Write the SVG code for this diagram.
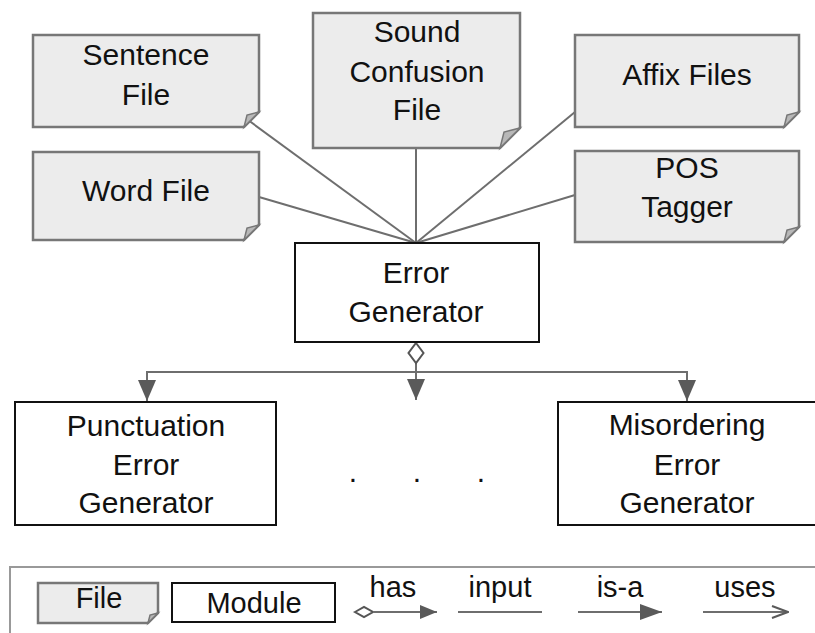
<svg xmlns="http://www.w3.org/2000/svg" width="815" height="633" viewBox="0 0 815 633">
<style>
text{font-family:"Liberation Sans",Arial,sans-serif;font-size:30px;fill:#111;text-anchor:middle}
.lg{font-size:29px}
.file{fill:#ececec;stroke:#777;stroke-width:2.5}
.fold{fill:#b8b8b8;stroke:#777;stroke-width:1.5}
.mod{fill:#fff;stroke:#111;stroke-width:2}
.ln{stroke:#6e6e6e;stroke-width:2;fill:none}
</style>
<defs>
<marker id="tri" markerWidth="21" markerHeight="18" refX="21" refY="9" orient="auto" markerUnits="userSpaceOnUse" viewBox="0 0 21 18">
<path d="M0,0 L21,9 L0,18 Z" fill="#5a5a5a"/>
</marker>
<marker id="tris" markerWidth="17" markerHeight="14" refX="17" refY="7" orient="auto" markerUnits="userSpaceOnUse" viewBox="0 0 17 14">
<path d="M0,0 L17,7 L0,14 Z" fill="#5a5a5a"/>
</marker>
<marker id="trib" markerWidth="22" markerHeight="16" refX="22" refY="8" orient="auto" markerUnits="userSpaceOnUse" viewBox="0 0 22 16">
<path d="M0,0 L22,8 L0,16 Z" fill="#5a5a5a"/>
</marker>
<marker id="open" markerWidth="18" markerHeight="14" refX="17" refY="7" orient="auto" markerUnits="userSpaceOnUse" viewBox="0 0 18 14">
<path d="M1,1 L17,7 L1,13" fill="none" stroke="#5a5a5a" stroke-width="2"/>
</marker>
</defs>

<g id="connectors">
<line class="ln" x1="248" y1="120" x2="416" y2="243"/>
<line class="ln" x1="259" y1="197" x2="416" y2="243"/>
<line class="ln" x1="416" y1="148" x2="416" y2="243"/>
<line class="ln" x1="575" y1="112" x2="416" y2="243"/>
<line class="ln" x1="575" y1="195" x2="416" y2="243"/>
<polyline class="ln" points="147,372 687,372"/>
<line class="ln" x1="147" y1="371" x2="147" y2="401" marker-end="url(#tri)"/>
<line class="ln" x1="687" y1="371" x2="687" y2="401" marker-end="url(#tri)"/>
<line class="ln" x1="416" y1="362" x2="416" y2="400" marker-end="url(#tri)"/>
<path d="M416,343 L423.5,353 L416,363 L408.5,353 Z" fill="#fff" stroke="#555" stroke-width="2"/>
</g>

<g id="sentence-file">
<path class="file" d="M33,35 H259 V112 L244,127 H33 Z"/>
<path class="fold" d="M259,112 L244,127 L247,115 Z"/>
<text x="146" y="65">Sentence</text>
<text x="146" y="105">File</text>
</g>

<g id="word-file">
<path class="file" d="M33,152 H259 V225 L244,240 H33 Z"/>
<path class="fold" d="M259,225 L244,240 L247,228 Z"/>
<text x="146" y="201">Word File</text>
</g>

<g id="sound-confusion-file">
<path class="file" d="M313,13 H520 V128 L500,148 H313 Z"/>
<path class="fold" d="M520,128 L500,148 L504,132 Z"/>
<text x="417" y="42">Sound</text>
<text x="417" y="82">Confusion</text>
<text x="417" y="120">File</text>
</g>

<g id="affix-files">
<path class="file" d="M575,35 H799 V112 L784,127 H575 Z"/>
<path class="fold" d="M799,112 L784,127 L787,115 Z"/>
<text x="687" y="85">Affix Files</text>
</g>

<g id="pos-tagger">
<path class="file" d="M575,151 H799 V227 L784,242 H575 Z"/>
<path class="fold" d="M799,227 L784,242 L787,230 Z"/>
<text x="687" y="178">POS</text>
<text x="687" y="217">Tagger</text>
</g>

<g id="error-generator">
<rect class="mod" x="295" y="243" width="244" height="99"/>
<text x="416" y="283">Error</text>
<text x="416" y="322">Generator</text>
</g>

<g id="punctuation-error-generator">
<rect class="mod" x="15" y="402" width="261" height="123"/>
<text x="146" y="436">Punctuation</text>
<text x="146" y="475">Error</text>
<text x="146" y="513">Generator</text>
</g>

<g id="dots">
<text x="353" y="482">.</text>
<text x="417" y="482">.</text>
<text x="481" y="482">.</text>
</g>

<g id="misordering-error-generator">
<rect class="mod" x="558" y="402" width="261" height="123"/>
<text x="687" y="435">Misordering</text>
<text x="687" y="475">Error</text>
<text x="687" y="513">Generator</text>
</g>

<g id="legend">
<rect x="10" y="567" width="820" height="80" fill="#fff" stroke="#999" stroke-width="2"/>
<path class="file" stroke-width="2" d="M38,583 H158 V613 L148,623 H38 Z"/>
<path class="fold" d="M158,613 L148,623 L150,615 Z"/>
<text class="lg" x="99" y="608">File</text>
<rect class="mod" x="172" y="583" width="163" height="39"/>
<text class="lg" x="254" y="613">Module</text>
<path d="M355,612 L364,607 L373,612 L364,617 Z" fill="#fff" stroke="#555" stroke-width="2"/>
<line class="ln" x1="373" y1="612" x2="437" y2="612" marker-end="url(#tris)"/>
<text class="lg" x="393" y="597">has</text>
<line class="ln" x1="458" y1="612" x2="542" y2="612"/>
<text class="lg" x="500" y="597">input</text>
<line class="ln" x1="578" y1="612" x2="662" y2="612" marker-end="url(#trib)"/>
<text class="lg" x="620" y="597">is-a</text>
<line class="ln" x1="703" y1="612" x2="788" y2="612" marker-end="url(#open)"/>
<text class="lg" x="745" y="597">uses</text>
</g>
</svg>
